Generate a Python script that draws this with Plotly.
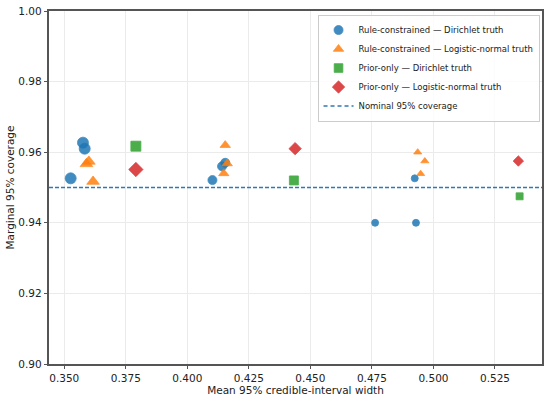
import plotly.graph_objects as go

# Rule-constrained, Dirichlet truth
rd_width = [0.3526, 0.3576, 0.3583, 0.4102, 0.4141, 0.4154, 0.4763, 0.4924, 0.4929]
rd_cov = [0.9526, 0.9627, 0.9610, 0.9521, 0.9560, 0.9570, 0.9400, 0.9526, 0.9400]

# Rule-constrained, logistic-normal truth
rl_width = [0.3590, 0.3600, 0.3617, 0.4154, 0.4162, 0.4148, 0.4936, 0.4965, 0.4948]
rl_cov = [0.9567, 0.9574, 0.9517, 0.9620, 0.9568, 0.9540, 0.9600, 0.9575, 0.9539]

# Prior-only
pd_width = [0.3791, 0.4433, 0.5350]
pd_cov = [0.9617, 0.9520, 0.9475]
pl_width = [0.3791, 0.4438, 0.5345]
pl_cov = [0.9551, 0.9610, 0.9575]

nominal = 0.95

# marker sizes per design level (style only)
rule_sizes = [11, 11, 11, 9, 9, 9, 7, 7, 7]
prior_sizes = [10, 9, 7]
diamond_sizes = [11, 9.5, 8]

font = "DejaVu Sans"
fig = go.Figure()


def add(x, y, name, color, symbol, sizes):
    fig.add_trace(go.Scatter(
        x=x, y=y, mode="markers", name=name,
        marker=dict(color=color, symbol=symbol, size=sizes, opacity=0.85,
                    line=dict(color=color, width=0.8)),
    ))


add(rd_width, rd_cov, "Rule-constrained — Dirichlet truth", "#1f77b4", "circle", rule_sizes)
add(rl_width, rl_cov, "Rule-constrained — Logistic-normal truth", "#ff7f0e", "triangle-up", rule_sizes)
add(pd_width, pd_cov, "Prior-only — Dirichlet truth", "#2ca02c", "square", prior_sizes)
add(pl_width, pl_cov, "Prior-only — Logistic-normal truth", "#d62728", "diamond", diamond_sizes)

# nominal coverage line, legend entry via empty trace
dash_line = dict(color="#2f78b3", width=1.5, dash="4px,2px")
fig.add_shape(type="line", xref="paper", x0=0, x1=1, y0=nominal, y1=nominal, line=dash_line)
fig.add_trace(go.Scatter(x=[None], y=[None], mode="lines", name="Nominal 95% coverage",
                         line=dict(color="#2f78b3", width=1.5, dash="4px,3px")))

axis_common = dict(
    showline=True, mirror=True, linecolor="#555555", linewidth=1.5,
    ticks="outside", ticklen=3.5, tickwidth=1, tickcolor="#555555",
    showgrid=True, gridcolor="#ebebeb", gridwidth=0.8, zeroline=False,
    tickfont=dict(size=10.5, color="#222222"), automargin=False,
    ticklabeloverflow="allow",
)

fig.update_layout(
    width=550, height=401,
    margin=dict(l=49, r=8, t=11, b=37),
    paper_bgcolor="white", plot_bgcolor="white",
    font=dict(family=font, size=10, color="#222222"),
    xaxis=dict(range=[0.3438, 0.5441], dtick=0.025, tickformat=".3f",
               title=dict(text="Mean 95% credible-interval width", font=dict(size=10.5), standoff=2),
               **axis_common),
    yaxis=dict(range=[0.90, 1.00], dtick=0.02, tickformat=".2f",
               title=dict(text="Marginal 95% coverage", font=dict(size=10.5), standoff=2),
               **axis_common),
    legend=dict(x=0.995, xanchor="right", y=0.99, yanchor="top",
                bgcolor="rgba(255,255,255,0.85)", bordercolor="#cccccc", borderwidth=1,
                font=dict(size=8.5), itemsizing="trace", tracegroupgap=0,
                itemwidth=30),
    showlegend=True,
)

# drop the default page margin so the figure fills the window exactly
fig.write_html("out.html", config={"displayModeBar": False},
               post_script="document.body.style.margin='0px';")
